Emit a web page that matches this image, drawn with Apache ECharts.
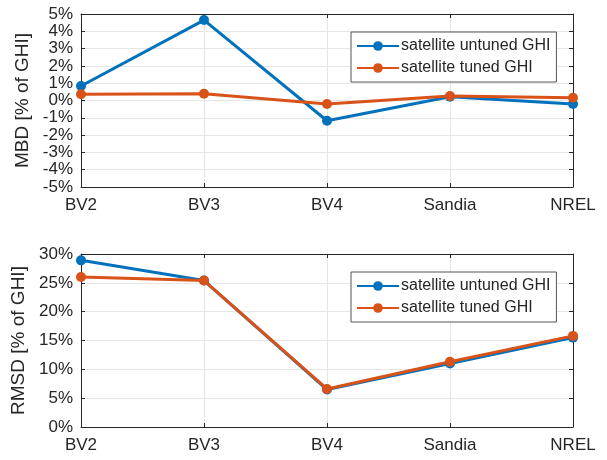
<!DOCTYPE html>
<html><head><meta charset="utf-8">
<script src="https://cdn.jsdelivr.net/npm/echarts@6/dist/echarts.min.js"></script>
<style>html,body{margin:0;padding:0;background:#fff}#c{width:607px;height:460px}</style>
</head><body><div id="c"></div>
<script>
var categories = ['BV2', 'BV3', 'BV4', 'Sandia', 'NREL'];
var mbdUntuned = [0.84, 4.65, -1.17, 0.22, -0.2];
var mbdTuned = [0.36, 0.39, -0.2, 0.26, 0.16];
var rmsdUntuned = [28.9, 25.4, 6.5, 11.0, 15.5];
var rmsdTuned = [26.0, 25.4, 6.6, 11.3, 15.8];
var seriesNames = ['satellite untuned GHI', 'satellite tuned GHI'];

var BLUE = '#0072BD', ORANGE = '#D95319';
var FONT = 'Liberation Sans';
var TXT = '#262626';
var chart = echarts.init(document.getElementById('c'));

function xAx(gi, show) {
  return {
    type: 'category', gridIndex: gi, data: categories, boundaryGap: false,
    position: show ? 'bottom' : 'top',
    axisLine: {show: true, onZero: false, lineStyle: {color: '#262626', width: 1}},
    axisTick: {show: true, inside: true, length: 4, lineStyle: {color: '#262626'}},
    axisLabel: {show: show, color: TXT, fontFamily: FONT, fontSize: 17, margin: 10},
    splitLine: {show: show, lineStyle: {color: '#e6e6e6', width: 1}}
  };
}
function yAx(gi, show, min, max, iv, name) {
  return {
    type: 'value', gridIndex: gi, min: min, max: max, interval: iv,
    position: show ? 'left' : 'right',
    name: show ? name : '', nameLocation: 'middle', nameGap: 44,
    nameTextStyle: {color: TXT, fontFamily: FONT, fontSize: 19},
    axisLine: {show: true, onZero: false, lineStyle: {color: '#262626', width: 1}},
    axisTick: {show: true, inside: true, length: 4, lineStyle: {color: '#262626'}},
    axisLabel: {show: show, color: TXT, fontFamily: FONT, fontSize: 17, margin: 8, formatter: '{value}%'},
    splitLine: {show: show, lineStyle: {color: '#e6e6e6', width: 1}}
  };
}
function ser(name, data, color, xi, yi) {
  return {
    name: name, type: 'line', data: data, xAxisIndex: xi, yAxisIndex: yi,
    color: color, symbol: 'circle', symbolSize: 10,
    lineStyle: {width: 3, color: color}, itemStyle: {color: color},
    animation: false
  };
}
function leg(top) {
  return {
    data: seriesNames, left: 351, top: top, orient: 'vertical',
    backgroundColor: '#fff', borderColor: '#555', borderWidth: 1,
    padding: [6, 6, 6, 5], itemGap: 6, itemWidth: 42, itemHeight: 12,
    textStyle: {color: TXT, fontFamily: FONT, fontSize: 16, padding: [0, 0, 0, -3]}
  };
}

chart.setOption({
  animation: false,
  grid: [
    {left: 81, right: 34, top: 14, height: 173},
    {left: 81, right: 34, top: 254, height: 173}
  ],
  legend: [leg(32), leg(272)],
  xAxis: [xAx(0, true), xAx(0, false), xAx(1, true), xAx(1, false)],
  yAxis: [
    yAx(0, true, -5, 5, 1, 'MBD [% of GHI]'), yAx(0, false, -5, 5, 1, ''),
    yAx(1, true, 0, 30, 5, 'RMSD [% of GHI]'), yAx(1, false, 0, 30, 5, '')
  ],
  series: [
    ser(seriesNames[0], mbdUntuned, BLUE, 0, 0),
    ser(seriesNames[1], mbdTuned, ORANGE, 0, 0),
    ser(seriesNames[0], rmsdUntuned, BLUE, 2, 2),
    ser(seriesNames[1], rmsdTuned, ORANGE, 2, 2)
  ]
});
</script></body></html>
